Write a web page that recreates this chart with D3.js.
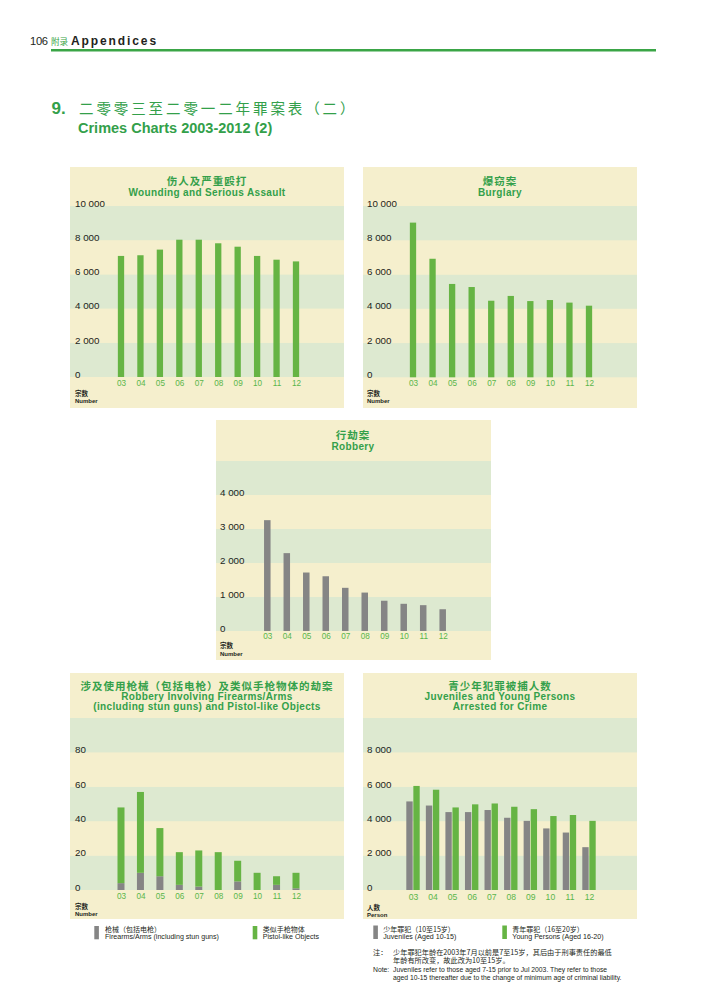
<!DOCTYPE html>
<html><head><meta charset="utf-8">
<script src="https://cdn.jsdelivr.net/npm/d3@7"></script>
<style>
html,body{margin:0;padding:0;background:#fff;}
svg{display:block;font-family:"Liberation Sans",Arial,Helvetica,sans-serif;}
</style></head><body>
<svg id="c" width="708" height="1000"></svg>
<script>
// ---------- DATA ----------
const years = ["03","04","05","06","07","08","09","10","11","12"];
const woundingValues = [7080, 7120, 7450, 8030, 8030, 7820, 7620, 7080, 6860, 6760];
const burglaryValues = [9030, 6920, 5450, 5270, 4470, 4750, 4450, 4510, 4360, 4180];
const robberyValues = [3260, 2290, 1720, 1610, 1270, 1130, 890, 800, 760, 640];
const firearmsValues = [4, 10, 8, 3, 2, 0, 5, 0, 3, 1];
const pistolLikeValues = [44, 47, 28, 19, 21, 22, 12, 10, 5, 9];
const juvenileValues = [5150, 4910, 4530, 4530, 4650, 4200, 4020, 3580, 3340, 2490];
const youngPersonValues = [6050, 5830, 4800, 4980, 5030, 4840, 4700, 4300, 4360, 4020];
const ticks10000 = [0, 2000, 4000, 6000, 8000, 10000];
const ticks4000 = [0, 1000, 2000, 3000, 4000];
const ticks80 = [0, 20, 40, 60, 80];
const ticks8000 = [0, 2000, 4000, 6000, 8000];

// ---------- STYLE ----------
const BEIGE = "#f5efcd", BAND = "#dde9d0", BARGREEN = "#66b444", GRAY = "#858585";
const TITLEGREEN = "#33a04a", CATGREEN = "#5ab64a", INK = "#231f20";
const CJK = "'Noto Sans CJK SC','Noto Sans CJK TC',sans-serif";
const fmt = d3.formatLocale({thousands:" ", grouping:[3], decimal:".", currency:["",""]}).format(",");

const svg = d3.select("#c");

// ---------- HEADER ----------
svg.append("text").attr("x",30).attr("y",44.5).attr("font-size",11.2).attr("fill",INK).attr("letter-spacing",-0.3).text("106");
svg.append("text").attr("x",51).attr("y",44.5).attr("font-size",8.6).attr("font-family",CJK).attr("fill","#3aa546").text("附录");
svg.append("text").attr("x",71).attr("y",44.5).attr("font-size",12).attr("font-weight","bold").attr("letter-spacing",1.9).attr("fill",INK).text("Appendices");
svg.append("rect").attr("x",51).attr("y",49).attr("width",605).attr("height",2.5).attr("fill","#3aa546");

svg.append("text").attr("x",51.5).attr("y",114.3).attr("font-size",17).attr("font-weight","bold").attr("fill",TITLEGREEN).text("9.");
svg.append("text").attr("x",79).attr("y",114).attr("font-size",14.5).attr("font-family",CJK).attr("letter-spacing",2.9).attr("fill",TITLEGREEN).text("二零零三至二零一二年罪案表（二）");
svg.append("text").attr("x",78).attr("y",133.3).attr("font-size",14.5).attr("font-weight","bold").attr("fill",TITLEGREEN).text("Crimes Charts 2003-2012 (2)");

// ---------- PANEL HELPER ----------
function panel(cfg){
  const g = svg.append("g");
  g.append("rect").attr("x",cfg.x).attr("y",cfg.y).attr("width",cfg.w).attr("height",cfg.h).attr("fill",BEIGE);
  const y = d3.scaleLinear().domain([0,cfg.max]).range([cfg.y0,cfg.yTop]);
  const step = cfg.max/5;
  g.selectAll("rect.band").data(d3.range(5)).join("rect").attr("class","band")
    .attr("x",cfg.x).attr("width",cfg.w)
    .attr("y",d=>y((d+1)*step)).attr("height",d=>y(d*step)-y((d+1)*step))
    .attr("fill",d=>d%2===0?BAND:BEIGE);
  // y axis labels
  const ya = g.append("g").attr("transform",`translate(${cfg.labelX},0)`)
    .call(d3.axisRight(y).tickValues(cfg.ticks).tickSize(0).tickPadding(0).tickFormat(fmt));
  ya.select(".domain").remove();
  ya.attr("font-family",null).attr("font-size",null);
  ya.selectAll("text").attr("dy","0.02em").attr("font-size",9.8).attr("fill",INK);
  // x axis labels
  const x = d3.scalePoint().domain(years).range(cfg.xr);
  const xa = g.append("g").attr("transform",`translate(0,${cfg.y0})`)
    .call(d3.axisBottom(x).tickSize(0).tickPadding(cfg.catPad));
  xa.select(".domain").remove();
  xa.attr("font-family",null).attr("font-size",null);
  xa.selectAll("text").attr("dy",0).attr("font-size",cfg.catSize||8.2).attr("fill",CATGREEN);
  // titles
  cfg.title.forEach((t,i)=>{
    const tx = g.append("text").attr("x",cfg.titleX).attr("y",cfg.titleY[i]).attr("text-anchor","middle")
      .attr("fill",TITLEGREEN).attr("font-weight","bold").text(t[0]);
    if(t[1]==="cjk") tx.attr("font-family",CJK).attr("font-size",10.5).attr("letter-spacing",1);
    else tx.attr("font-size",10).attr("letter-spacing",0.35);
  });
  // unit labels
  g.append("text").attr("x",cfg.labelX).attr("y",cfg.unitY[0]).attr("font-family",CJK).attr("font-size",6.5).attr("font-weight","bold").attr("fill",INK).text(cfg.unit[0]);
  g.append("text").attr("x",cfg.labelX).attr("y",cfg.unitY[1]).attr("font-size",6).attr("font-weight","bold").attr("fill",INK).text(cfg.unit[1]);
  return {g,x,y};
}

// ---------- CHART 1: Wounding ----------
{
  const p = panel({x:70,y:167,w:274,h:241,y0:377,yTop:206,max:10000,ticks:ticks10000,labelX:75,xr:[121,296],catPad:9,
    title:[["伤人及严重殴打","cjk"],["Wounding and Serious Assault","en"]],titleX:207,titleY:[185.3,196.3],
    unit:["宗数","Number"],unitY:[395.5,403]});
  const bw=6.3;
  p.g.selectAll("rect.bar").data(woundingValues).join("rect").attr("class","bar")
    .attr("x",(d,i)=>p.x(years[i])-bw/2).attr("width",bw)
    .attr("y",d=>p.y(d)).attr("height",d=>p.y(0)-p.y(d)).attr("fill",BARGREEN);
}
// ---------- CHART 2: Burglary ----------
{
  const p = panel({x:363,y:167,w:274,h:241,y0:377.3,yTop:206,max:10000,ticks:ticks10000,labelX:367,xr:[413,589],catPad:8.5,
    title:[["爆窃案","cjk"],["Burglary","en"]],titleX:500,titleY:[185.3,196.3],
    unit:["宗数","Number"],unitY:[395.5,403]});
  const bw=6.3;
  p.g.selectAll("rect.bar").data(burglaryValues).join("rect").attr("class","bar")
    .attr("x",(d,i)=>p.x(years[i])-bw/2).attr("width",bw)
    .attr("y",d=>p.y(d)).attr("height",d=>p.y(0)-p.y(d)).attr("fill",BARGREEN);
}
// ---------- CHART 3: Robbery ----------
{
  const p = panel({x:216,y:420,w:275,h:240,y0:631,yTop:461,max:5000,ticks:ticks4000,labelX:220,xr:[267.3,442.7],catPad:7.5,
    title:[["行劫案","cjk"],["Robbery","en"]],titleX:353,titleY:[438.5,449.5],
    unit:["宗数","Number"],unitY:[648,656]});
  const bw=6.5;
  p.g.selectAll("rect.bar").data(robberyValues).join("rect").attr("class","bar")
    .attr("x",(d,i)=>p.x(years[i])-bw/2).attr("width",bw)
    .attr("y",d=>p.y(d)).attr("height",d=>p.y(0)-p.y(d)).attr("fill",GRAY);
}
// ---------- CHART 4: Firearms ----------
{
  const p = panel({x:70,y:673,w:274,h:246,y0:890,yTop:718,max:100,ticks:ticks80,labelX:75,xr:[121,296],catPad:9,
    title:[["涉及使用枪械（包括电枪）及类似手枪物体的劫案","cjk"],["Robbery Involving Firearms/Arms","en"],["(including stun guns) and Pistol-like Objects","en"]],
    titleX:207,titleY:[689.5,700,710],
    unit:["宗数","Number"],unitY:[908.5,916]});
  const rows = years.map((yr,i)=>({year:yr, firearms:firearmsValues[i], pistol:pistolLikeValues[i]}));
  const stack = d3.stack().keys(["firearms","pistol"])(rows);
  const colors = {firearms:GRAY, pistol:BARGREEN};
  const bw=7;
  p.g.selectAll("g.layer").data(stack).join("g").attr("class","layer").attr("fill",d=>colors[d.key])
    .selectAll("rect").data(d=>d).join("rect")
    .attr("x",d=>p.x(d.data.year)-bw/2).attr("width",bw)
    .attr("y",d=>p.y(d[1])).attr("height",d=>p.y(d[0])-p.y(d[1]));
  // legend
  const lg = svg.append("g").attr("fill",INK);
  lg.append("rect").attr("x",94.3).attr("y",926).attr("width",4.6).attr("height",13.3).attr("fill",GRAY);
  lg.append("text").attr("x",105).attr("y",931.6).attr("font-family",CJK).attr("font-size",7).text("枪械（包括电枪）");
  lg.append("text").attr("x",105).attr("y",939.2).attr("font-size",7.1).text("Firearms/Arms (including stun guns)");
  lg.append("rect").attr("x",252.7).attr("y",926).attr("width",4.6).attr("height",13.3).attr("fill",BARGREEN);
  lg.append("text").attr("x",262.7).attr("y",931.6).attr("font-family",CJK).attr("font-size",7).text("类似手枪物体");
  lg.append("text").attr("x",262.7).attr("y",939.2).attr("font-size",7.1).text("Pistol-like Objects");
}
// ---------- CHART 5: Juveniles ----------
{
  const p = panel({x:363,y:673,w:274,h:246,y0:890,yTop:718,max:10000,ticks:ticks8000,labelX:367,xr:[413,589],catPad:9.5,catSize:8.6,
    title:[["青少年犯罪被捕人数","cjk"],["Juveniles and Young Persons","en"],["Arrested for Crime","en"]],
    titleX:500,titleY:[689.5,700,710],
    unit:["人数","Person"],unitY:[909.5,916.5]});
  const rows = years.map((yr,i)=>({year:yr, juv:juvenileValues[i], young:youngPersonValues[i]}));
  const sub = d3.scaleBand().domain(["juv","young"]).range([-6.7,6.7]).paddingInner(0.1);
  const colors = {juv:GRAY, young:BARGREEN};
  p.g.selectAll("g.grp").data(rows).join("g").attr("class","grp")
    .attr("transform",d=>`translate(${p.x(d.year)},0)`)
    .selectAll("rect").data(d=>["juv","young"].map(k=>({k,v:d[k]}))).join("rect")
    .attr("x",d=>sub(d.k)).attr("width",sub.bandwidth())
    .attr("y",d=>p.y(d.v)).attr("height",d=>p.y(0)-p.y(d.v)).attr("fill",d=>colors[d.k]);
  const lg = svg.append("g").attr("fill",INK);
  lg.append("rect").attr("x",373.3).attr("y",925.5).attr("width",4.6).attr("height",13.5).attr("fill",GRAY);
  lg.append("text").attr("x",383.3).attr("y",931.6).attr("font-family",CJK).attr("font-size",7).text("少年罪犯（10至15岁）");
  lg.append("text").attr("x",383.3).attr("y",939.2).attr("font-size",7.1).text("Juveniles (Aged 10-15)");
  lg.append("rect").attr("x",502.3).attr("y",925.5).attr("width",4.6).attr("height",13.5).attr("fill",BARGREEN);
  lg.append("text").attr("x",512.3).attr("y",931.6).attr("font-family",CJK).attr("font-size",7).text("青年罪犯（16至20岁）");
  lg.append("text").attr("x",512.3).attr("y",939.2).attr("font-size",7.1).text("Young Persons (Aged 16-20)");
  // note
  const nt = svg.append("g").attr("fill",INK);
  nt.append("text").attr("x",373).attr("y",955.4).attr("font-family",CJK).attr("font-size",7.2).text("注：");
  nt.append("text").attr("x",393).attr("y",955.4).attr("font-family",CJK).attr("font-size",7.2).text("少年罪犯年龄在2003年7月以前是7至15岁，其后由于刑事责任的最低");
  nt.append("text").attr("x",393).attr("y",963.4).attr("font-family",CJK).attr("font-size",7.2).text("年龄有所改变，故此改为10至15岁。");
  nt.append("text").attr("x",373).attr("y",971.5).attr("font-size",6.8).text("Note:");
  nt.append("text").attr("x",393).attr("y",971.5).attr("font-size",6.8).text("Juveniles refer to those aged 7-15 prior to Jul 2003. They refer to those");
  nt.append("text").attr("x",393).attr("y",979.7).attr("font-size",6.8).text("aged 10-15 thereafter due to the change of minimum age of criminal liability.");
}
</script>
</body></html>
